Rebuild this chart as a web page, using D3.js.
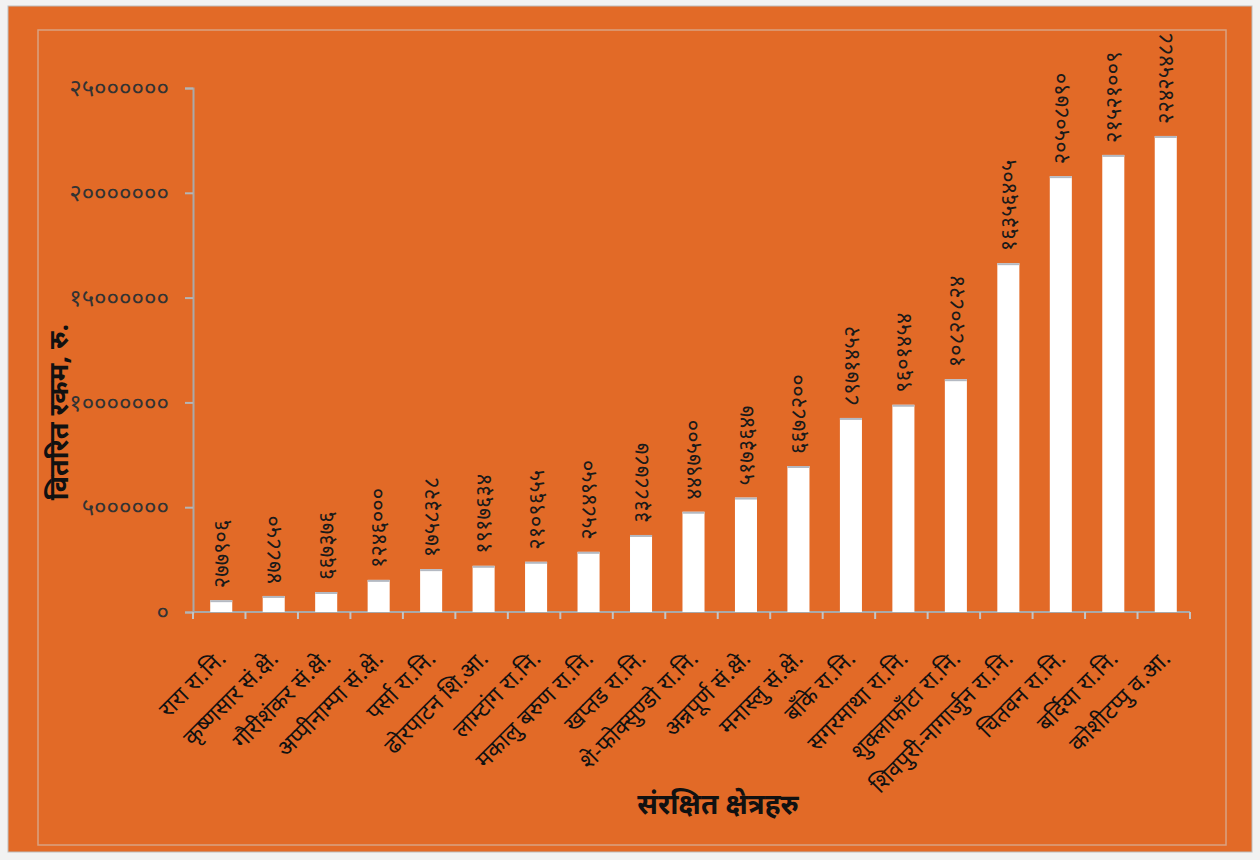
<!DOCTYPE html>
<html>
<head>
<meta charset="utf-8">
<script src="https://cdn.jsdelivr.net/npm/d3@7"></script>
<style>
  html, body { margin: 0; padding: 0; background: #f2f2f2; }
  svg { display: block; }
  text { font-family: "Noto Sans", "Noto Sans Devanagari", "Lohit Devanagari", sans-serif; }
</style>
</head>
<body>
<svg id="chart" width="1260" height="860"></svg>
<script>
// Protected areas of Nepal and the amount distributed to each (Rs.)
const categories = [
  "रारा रा.नि.", "कृष्णसार सं.क्षे.", "गौरीशंकर सं.क्षे.", "अप्पीनाम्पा सं.क्षे.",
  "पर्सा रा.नि.", "ढोरपाटन शि.आ.", "लाम्टांग रा.नि.", "मकालु बरुण रा.नि.",
  "खप्तड रा.नि.", "शे-फोक्सुण्डो रा.नि.", "अन्नपूर्ण सं.क्षे.", "मनास्लु सं.क्षे.",
  "बाँके रा.नि.", "सगरमाथा रा.नि.", "शुक्लाफाँटा रा.नि.", "शिवपुरी-नागार्जुन रा.नि.",
  "चितवन रा.नि.", "बर्दिया रा.नि.", "कोशीटप्पु व.आ."
];
const amounts = [
  277906, 478850, 667376, 1246000,
  1758328, 1917634, 2109655, 2584950,
  3388787, 4497500, 5173647, 6678200,
  8971452, 9601454, 10820824, 16356405,
  20508790, 21521009, 22425488
];
const yTickValues = [0, 5000000, 10000000, 15000000, 20000000, 25000000];
const yTitle = "वितरित रकम, रु.";
const xTitle = "संरक्षित क्षेत्रहरु";

const devaDigits = "०१२३४५६७८९";
const toDeva = n => String(n).replace(/[0-9]/g, d => devaDigits[+d]);

const svg = d3.select("#chart");

// outer panel and inner frame
svg.append("rect").attr("x", 8).attr("y", 6).attr("width", 1244).attr("height", 846)
  .attr("fill", "#e26a27").attr("stroke", "#bdbdbd").attr("stroke-width", 1);
svg.append("rect").attr("x", 38).attr("y", 30).attr("width", 1188).attr("height", 815)
  .attr("fill", "none").attr("stroke", "#d9a283").attr("stroke-width", 1.5);

const plot = { left: 193, right: 1190, top: 88, bottom: 612 };

const x = d3.scaleBand().domain(categories)
  .range([plot.left, plot.right]).paddingInner(0.58).paddingOuter(0.29);
const y = d3.scaleLinear().domain([0, 25000000]).range([plot.bottom, plot.top]);

// y axis
const yAxis = d3.axisLeft(y).tickValues(yTickValues).tickFormat(toDeva)
  .tickSize(8).tickPadding(16);
const gy = svg.append("g").attr("transform", `translate(${plot.left},0)`).call(yAxis);
gy.select(".domain").attr("stroke", "#a9a9a9").attr("stroke-width", 2);
gy.selectAll(".tick line").attr("stroke", "#b5b5b5").attr("stroke-width", 2);
gy.selectAll(".tick text").attr("fill", "#333").attr("font-size", 24)
  .attr("font-family", "'Noto Sans', sans-serif");

// x axis line with ticks on category boundaries
svg.append("line").attr("x1", plot.left).attr("x2", plot.right)
  .attr("y1", plot.bottom).attr("y2", plot.bottom)
  .attr("stroke", "#a9a9a9").attr("stroke-width", 2);
const step = x.step();
const bounds = d3.range(categories.length + 1).map(i => plot.left + i * step);
svg.append("g").selectAll("line").data(bounds).join("line")
  .attr("x1", d => d).attr("x2", d => d)
  .attr("y1", plot.bottom).attr("y2", plot.bottom + 7)
  .attr("stroke", "#c4c4c4").attr("stroke-width", 2);

// bars
const data = categories.map((c, i) => ({ c, v: amounts[i] }));
const bars = svg.append("g");
bars.selectAll("rect.bar").data(data).join("rect").attr("class", "bar")
  .attr("x", d => x(d.c) + 2).attr("width", x.bandwidth())
  .attr("y", d => y(d.v) - 6).attr("height", d => plot.bottom - y(d.v) + 6)
  .attr("fill", "#ffffff");
// shaded top edge of each column
bars.selectAll("line.edge").data(data).join("line").attr("class", "edge")
  .attr("x1", d => x(d.c) + 2).attr("x2", d => x(d.c) + 2 + x.bandwidth())
  .attr("y1", d => y(d.v) - 5).attr("y2", d => y(d.v) - 5)
  .attr("stroke", "#b4b9c2").attr("stroke-width", 2);

// value labels, rotated
svg.append("g").selectAll("text").data(data).join("text")
  .attr("transform", d => `translate(${x(d.c) + 2 + x.bandwidth() / 2},${y(d.v) - 18}) rotate(-90)`)
  .attr("text-anchor", "start").attr("dy", "0.35em")
  .attr("font-size", 22).attr("fill", "#1a1a1a")
  .text(d => toDeva(d.v));

// category labels at 45 degrees
svg.append("g").selectAll("text").data(categories).join("text")
  .attr("transform", d => `translate(${x(d) + x.bandwidth() / 2 + 8},${plot.bottom + 48}) rotate(-45)`)
  .attr("text-anchor", "end")
  .attr("font-size", 23).attr("fill", "#111")
  .text(d => d);

// axis titles
svg.append("text")
  .attr("transform", `translate(68,${(plot.top + plot.bottom) / 2 + 62}) rotate(-90)`)
  .attr("text-anchor", "middle").attr("font-size", 27).attr("font-weight", "bold")
  .attr("fill", "#111").text(yTitle);
svg.append("text").attr("x", 718).attr("y", 814)
  .attr("text-anchor", "middle").attr("font-size", 28).attr("font-weight", "bold")
  .attr("fill", "#111").text(xTitle);
</script>
</body>
</html>
